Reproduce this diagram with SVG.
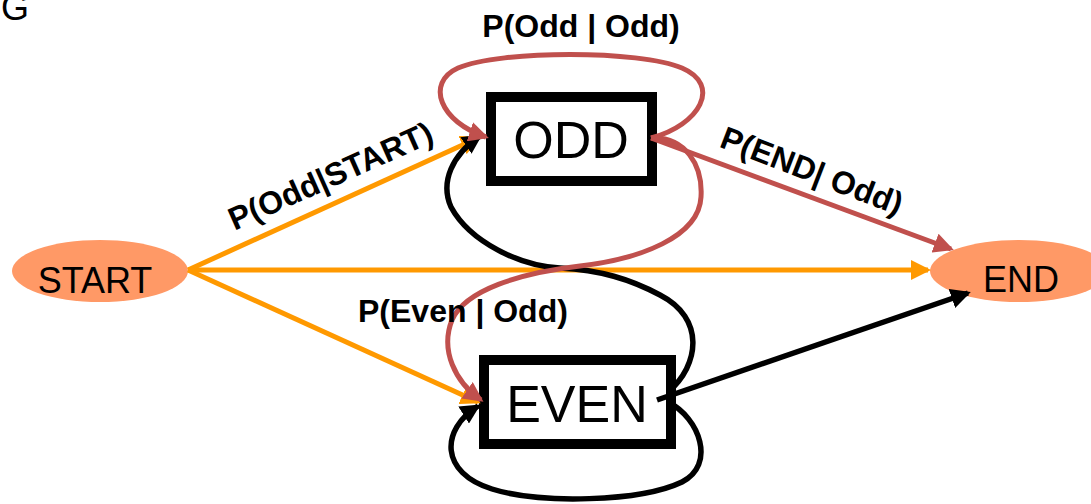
<svg xmlns="http://www.w3.org/2000/svg" width="1091" height="504" viewBox="0 0 1091 504">
<style>
.lbl{font-family:"Liberation Sans",Arial,sans-serif;font-size:32px;font-weight:bold;fill:#000}
.ntx{font-family:"Liberation Sans",Arial,sans-serif;fill:#000}
.box{fill:#fff;stroke:#000;stroke-width:10}
.ell{fill:#FF9966;stroke:none}
.or{fill:none;stroke:#FF9900;stroke-width:5}
.rd{fill:none;stroke:#C0504D;stroke-width:5}
.bk{fill:none;stroke:#000;stroke-width:5.5}
</style>
<defs>
<marker id="aO" markerUnits="userSpaceOnUse" markerWidth="20" markerHeight="20" viewBox="0 0 20 20" refX="17" refY="10" orient="auto"><path d="M0,0 L20,10 L0,20 z" fill="#FF9900"/></marker>
<marker id="aR" markerUnits="userSpaceOnUse" markerWidth="20" markerHeight="20" viewBox="0 0 20 20" refX="17" refY="10" orient="auto"><path d="M0,0 L20,10 L0,20 z" fill="#C0504D"/></marker>
<marker id="aK" markerUnits="userSpaceOnUse" markerWidth="20" markerHeight="20" viewBox="0 0 20 20" refX="17" refY="10" orient="auto"><path d="M0,0 L20,10 L0,20 z" fill="#000"/></marker>
</defs>
<text class="ntx" x="1" y="20" font-size="36">G</text>
<g id="start"><ellipse class="ell" cx="100" cy="271" rx="88" ry="31"/><text class="ntx" x="95" y="293" font-size="36" text-anchor="middle">START</text></g>
<g id="end"><ellipse class="ell" cx="1019" cy="271" rx="89" ry="31"/><text class="ntx" x="1021" y="292" font-size="36" text-anchor="middle">END</text></g>
<g id="odd"><rect class="box" x="491" y="97" width="161" height="84"/><text class="ntx" x="571" y="158" font-size="52" text-anchor="middle">ODD</text></g>
<g id="even"><rect class="box" x="484" y="360" width="187" height="84"/><text class="ntx" x="577" y="422" font-size="52" text-anchor="middle">EVEN</text></g>
<g id="connectors">
<path class="or" d="M188 270 L478 138" marker-end="url(#aO)"/>
<path class="or" d="M188 270 L928 270" marker-end="url(#aO)"/>
<path class="or" d="M188 270 L478 402" marker-end="url(#aO)"/>
<path class="bk" d="M657 400 L968 293" marker-end="url(#aK)"/>
<path class="bk" d="M668 392 C700 365, 705 318, 660 295 C630 279, 600 270, 560 268 C520 266, 470 242, 451 207 C440 182, 452 155, 480 136" marker-end="url(#aK)"/>
<path class="bk" d="M668 402 C700 418, 716 465, 682 482 C640 502, 540 504, 492 489 C440 473, 440 430, 478 406" marker-end="url(#aK)"/>
<path class="rd" d="M651 138 L951 249" marker-end="url(#aR)"/>
<path class="rd" d="M651 138 C700 125, 722 85, 682 68 C640 50, 500 50, 458 68 C425 83, 440 122, 486 137" marker-end="url(#aR)"/>
<path class="rd" d="M651 138 C685 136, 703 165, 701 197 C699 237, 640 259, 580 266 C520 273, 465 290, 452 320 C440 350, 455 382, 481 400" marker-end="url(#aR)"/>
<text class="lbl" x="581" y="37" text-anchor="middle">P(Odd | Odd)</text>
<text class="lbl" x="335" y="186" text-anchor="middle" transform="rotate(-24 335 186)">P(Odd|START)</text>
<text class="lbl" x="808" y="181" text-anchor="middle" transform="rotate(21 808 181)">P(END| Odd)</text>
<text class="lbl" x="358" y="322">P(Even | Odd)</text>
</g>
</svg>
